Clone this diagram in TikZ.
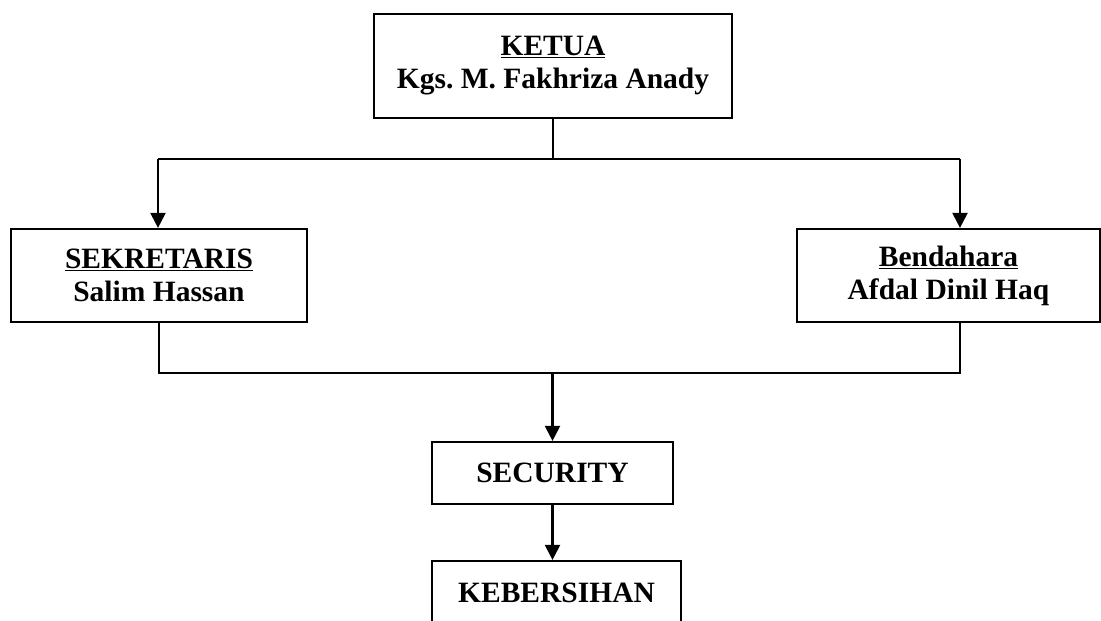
\documentclass[tikz,border=0pt]{standalone}
\usepackage{fontspec}
\setmainfont{Liberation Serif}
\usetikzlibrary{arrows.meta}
\frenchspacing
\begin{document}
\begin{tikzpicture}[x=1pt,y=-1pt,
  box/.style={draw, line width=2.2pt, align=center, inner sep=0pt,
    font=\fontsize{29.5}{33}\selectfont\bfseries},
  conn/.style={line width=2.2pt},
  arr/.style={line width=2.2pt, -{Triangle[length=15pt,width=15pt]}}]
\useasboundingbox (0,0) rectangle (1101,621);
\clip (0,0) rectangle (1101,621);
\node[box, minimum width=358pt, minimum height=104pt] (ketua) at (553,66)
  {\underline{KETUA}\\Kgs. M. Fakhriza Anady};
\node[box, minimum width=296pt, minimum height=93pt] (sek) at (159,275.5)
  {\underline{SEKRETARIS}\\Salim Hassan};
\node[box, minimum width=303pt, minimum height=93pt] (ben) at (948.5,275.5)
  {\underline{Bendahara}\\Afdal Dinil Haq};
\node[box, minimum width=241pt, minimum height=62pt] (sec) at (552.5,473)
  {SECURITY};
\node[box, minimum width=249pt, minimum height=64pt] (keb) at (556.5,593)
  {KEBERSIHAN};
\coordinate (jl) at (158,159);
\coordinate (jr) at (960,159);
\coordinate (bl) at (159,373);
\coordinate (br) at (960,373);
\draw[conn] (ketua.south) -- (ketua.south |- jl);
\draw[conn] (jl) -- (jr);
\draw[arr] (jl) -- (jl |- sek.north);
\draw[arr] (jr) -- (jr |- ben.north);
\draw[conn] (sek.south) -- (bl) -- (br) -- (br |- ben.south);
\draw[arr] (sec.north |- bl) -- (sec.north);
\draw[arr] (sec.south) -- (sec.south |- keb.north);
\end{tikzpicture}
\end{document}
